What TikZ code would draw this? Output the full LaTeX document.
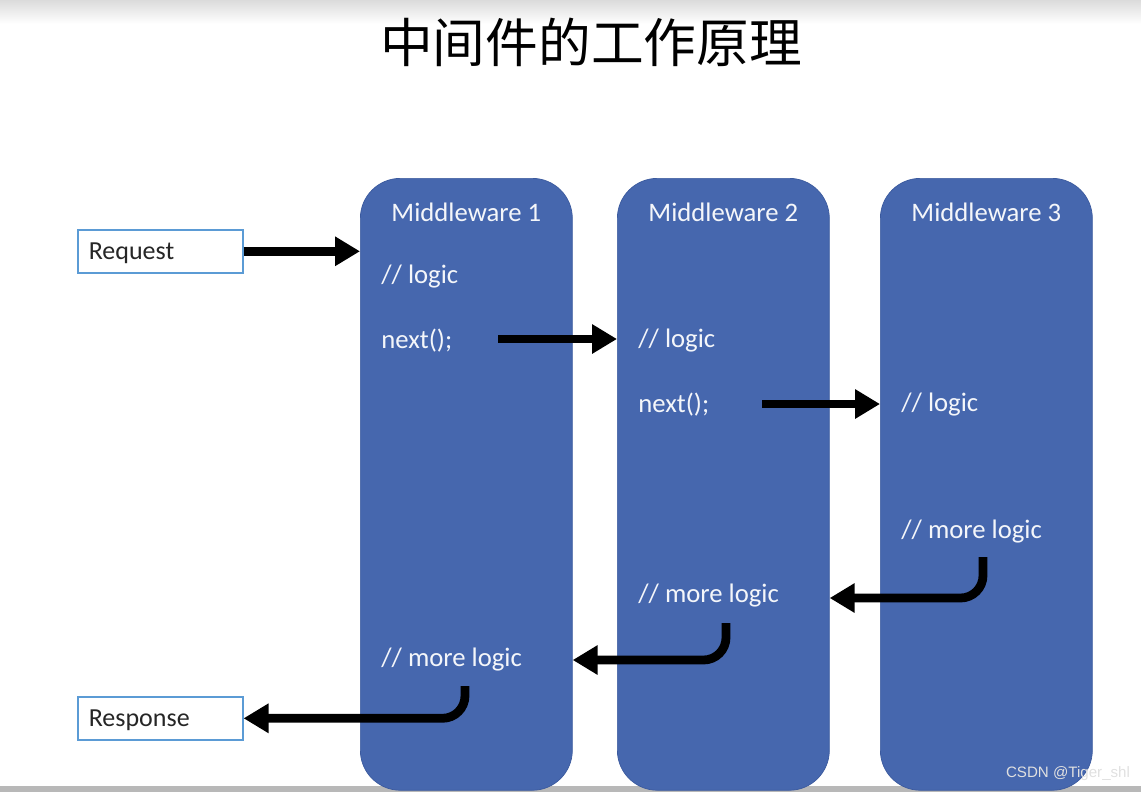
\documentclass[tikz,border=0pt]{standalone}
\usepackage{fontspec}
\setmainfont{Carlito}
\newfontfamily\cjk{Noto Sans CJK SC}
\newfontfamily\wmfont{Liberation Sans}
\usetikzlibrary{arrows.meta}

\definecolor{mwblue}{HTML}{4667AE}
\definecolor{mwedge}{HTML}{3B5A9E}
\definecolor{boxedge}{HTML}{5B9BD5}

\tikzset{
  mw/.style={draw=mwedge, fill=mwblue, rounded corners=0.8cm,
    minimum width=4.24cm, minimum height=12.24cm, anchor=north west, inner sep=0pt},
  mwtitle/.style={text=white!94!mwblue, font=\fontsize{15.2}{18}\selectfont},
  code/.style={text=white!94!mwblue, anchor=west, inner sep=0pt,
    font=\fontsize{15.2}{18}\selectfont},
  endbox/.style={draw=boxedge, fill=white, line width=0.9pt, anchor=north west,
    inner xsep=0.22cm, text width=2.86cm, minimum height=0.86cm, align=left,
    text depth=0pt, text=black!85, font=\fontsize{14.8}{17}\selectfont},
  flow/.style={line width=5pt, -{Triangle[length=0.5cm, width=0.56cm]}},
  back/.style={flow, rounded corners=0.45cm},
}

\begin{document}
\begin{tikzpicture}[x=0.02cm, y=-0.02cm]

\useasboundingbox (0,0) rectangle (1141,792);

% page
\shade[top color=black!14, bottom color=white] (0,0) rectangle (1141,24);
\fill[black!28] (0,786) rectangle (1141,792);

\node[font=\cjk\fontsize{30}{36}\selectfont] (title) at (591,42) {中间件的工作原理};

% middleware columns
\foreach \i/\x in {1/360,2/617,3/880}{
  \node[mw] (mw\i) at (\x,178) {};
  \node[mwtitle] (head\i) at ([yshift=-0.68cm]mw\i.north) {Middleware \i};
}

\node[code] (logic1) at (381,277) {// logic};
\node[code] (next1)  at (381,341) {next();};
\node[code] (logic2) at (638,341) {// logic};
\node[code] (next2)  at (638,405) {next();};
\node[code] (logic3) at (901,405) {// logic};
\node[code] (more3)  at (901,532) {// more logic};
\node[code] (more2)  at (638,596) {// more logic};
\node[code] (more1)  at (381,660) {// more logic};

\node[endbox] (req)  at (77,229) {Request};
\node[endbox] (resp) at (77,696) {Response};

% way in
\coordinate (go1) at (498,339);
\coordinate (go2) at (762,404);
\draw[flow] (req.east) -- (req.east -| mw1.west);
\draw[flow] (go1) -- (go1 -| mw2.west);
\draw[flow] (go2) -- (go2 -| mw3.west);

% way out
\coordinate (ret3) at (983,557);
\coordinate (bend3) at (983,598);
\coordinate (ret2) at (726,623);
\coordinate (bend2) at (726,660);
\coordinate (ret1) at (465,686);
\coordinate (bend1) at (465,718);
\draw[back] (ret3) -- (bend3) -- (bend3 -| mw2.east);
\draw[back] (ret2) -- (bend2) -- (bend2 -| mw1.east);
\draw[back] (ret1) -- (bend1 |- resp.east) -- (resp.east);

\node[text=white!88!black, font=\wmfont\fontsize{8.6}{10}\selectfont] (mark) at (1068,774) {CSDN @Tiger\_shl};

\end{tikzpicture}
\end{document}
